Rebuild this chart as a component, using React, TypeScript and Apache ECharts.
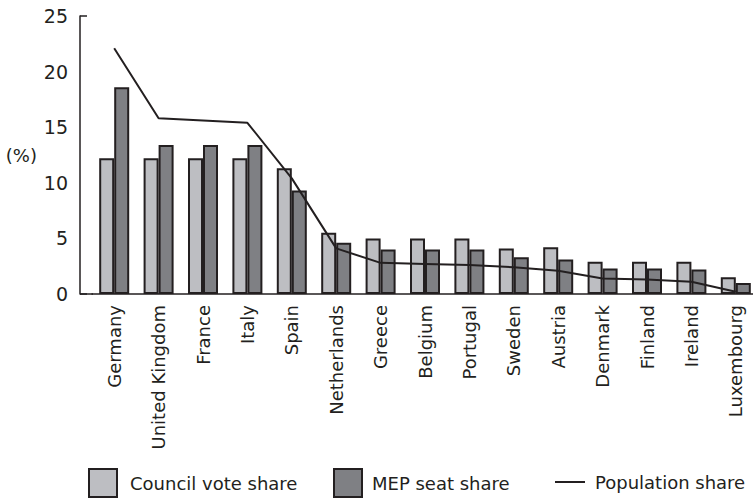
import React, { useEffect, useRef } from "react";
import * as echarts from "echarts";

const categories = [
  "Germany", "United Kingdom", "France", "Italy", "Spain", "Netherlands", "Greece",
  "Belgium", "Portugal", "Sweden", "Austria", "Denmark", "Finland", "Ireland", "Luxembourg",
];
const councilVoteShare = [12.2, 12.2, 12.2, 12.2, 11.3, 5.5, 5.0, 5.0, 5.0, 4.1, 4.2, 2.9, 2.9, 2.9, 1.5];
const mepSeatShare = [18.6, 13.4, 13.4, 13.4, 9.3, 4.6, 4.0, 4.0, 4.0, 3.3, 3.1, 2.3, 2.3, 2.2, 1.0];
const populationShare = [22.1, 15.8, 15.6, 15.4, 10.4, 4.1, 2.8, 2.7, 2.6, 2.4, 2.1, 1.4, 1.3, 1.1, 0.2];

const INK = "#231f20";
const FONT = "'DejaVu Sans', sans-serif";

export default function App() {
  const ref = useRef<HTMLDivElement>(null);
  useEffect(() => {
    if (!ref.current) return;
    const chart = echarts.init(ref.current, undefined, { renderer: "svg" });
    const legendText = { color: INK, fontFamily: FONT, fontSize: 18 };
    chart.setOption({
      animation: false,
      backgroundColor: "#ffffff",
      grid: { left: 92, top: 16, width: 666, height: 278, outerBoundsMode: "none", containLabel: false },
      legend: [
        {
          data: [{ name: "Council vote share", icon: "rect" }], left: 88, top: 468, padding: 0,
          itemWidth: 28, itemHeight: 28, textStyle: { ...legendText, padding: [0, 0, 0, 8] },
        },
        {
          data: [{ name: "MEP seat share", icon: "rect" }], left: 333, top: 468, padding: 0,
          itemWidth: 28, itemHeight: 28, textStyle: { ...legendText, padding: [0, 0, 0, 5] },
        },
        {
          data: [{ name: "Population share", icon: "rect" }], left: 555, top: 468, padding: 0,
          itemWidth: 30, itemHeight: 2, textStyle: { ...legendText, padding: [0, 0, 0, 5], lineHeight: 28 },
          itemStyle: { color: INK, borderWidth: 0 },
        },
      ],
      xAxis: {
        type: "category",
        data: categories,
        axisLine: { lineStyle: { color: INK, width: 1.5 } },
        axisTick: { inside: true, length: 9, lineStyle: { color: INK, width: 1.5 }, interval: (i: number) => i !== 0 },
        axisLabel: { rotate: 90, margin: 11, color: INK, fontFamily: FONT, fontSize: 18, interval: 0 },
      },
      yAxis: [
        {
          type: "value",
          min: 0, max: 25, interval: 5,
          offset: 12,
          name: "(%)",
          nameLocation: "middle",
          nameRotate: 0,
          nameGap: 43,
          nameTextStyle: { color: INK, fontFamily: FONT, fontSize: 18 },
          axisLine: { show: true, lineStyle: { color: INK, width: 1.5 } },
          axisTick: { show: false },
          splitLine: { show: false },
          axisLabel: { margin: 12, color: INK, fontFamily: FONT, fontSize: 19 },
        },
        {
          type: "value",
          min: 0, max: 25, interval: 25,
          offset: 12,
          position: "left",
          axisLine: { show: false },
          axisTick: { show: true, inside: true, length: 7, lineStyle: { color: INK, width: 1.5 } },
          axisLabel: { show: false },
          splitLine: { show: false },
        },
      ],
      graphic: [
        { type: "line", shape: { x1: 80, y1: 294, x2: 93, y2: 294 }, style: { stroke: INK, lineWidth: 1.5 } },
      ],
      series: [
        {
          name: "Council vote share",
          type: "bar",
          data: councilVoteShare,
          barWidth: 15,
          barGap: "0%",
          itemStyle: { color: "#bdbec2", borderColor: INK, borderWidth: 2 },
        },
        {
          name: "MEP seat share",
          type: "bar",
          data: mepSeatShare,
          barWidth: 15,
          barGap: "0%",
          itemStyle: { color: "#7f8084", borderColor: INK, borderWidth: 2 },
        },
        {
          name: "Population share",
          type: "line",
          data: populationShare,
          symbol: "none",
          lineStyle: { color: INK, width: 2 },
          itemStyle: { color: INK },
          z: 5,
        },
      ],
    });
    return () => chart.dispose();
  }, []);
  return (
    <div
      ref={ref}
      style={{ position: "fixed", left: 0, top: 0, width: 753, height: 498, background: "#fff" }}
    />
  );
}
